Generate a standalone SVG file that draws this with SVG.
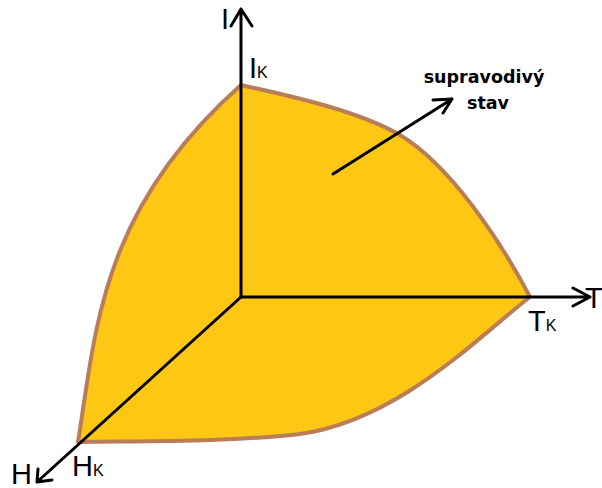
<svg xmlns="http://www.w3.org/2000/svg" width="602" height="488" viewBox="0 0 602 488">
<style>
.ax{stroke:#000;stroke-width:3;fill:none;stroke-linecap:round;stroke-linejoin:round}
.lbl{font-family:"Liberation Sans",Arial,sans-serif;fill:#000}
.big{font-size:29px}
.sub{font-size:16px}
.note{font-family:"DejaVu Sans",Verdana,sans-serif;font-weight:bold;font-size:17.5px;fill:#000}
</style>
<rect width="602" height="488" fill="#fff"/>
<g id="region">
<path d="M241,85 C300,98 360,112 400,135 C450,165 500,240 530,297 C480,335 400,420 300,434 C230,442 150,441 78,442 C96,330 100,210 241,85 Z" fill="#FDC713" stroke="#B97E57" stroke-width="4" stroke-linejoin="round"/>
</g>
<g id="connectors">
<path class="ax" d="M241,297 L241,9 M231,26 L241,9 L252,26"/>
<path class="ax" d="M241,297 L590,297 M573,288 L590,297 L573,306"/>
<path class="ax" d="M241,297 L37,482 M38,469 L37,482 L52,480"/>
<path class="ax" d="M333,174 L452,99 M433,100 L452,99 L443,113"/>
</g>
<g id="axis-I"><text class="lbl big" x="221" y="29">I</text></g>
<g id="axis-T"><text class="lbl big" x="585" y="308">T</text></g>
<g id="axis-H"><text class="lbl big" x="11" y="484">H</text></g>
<g id="label-Ik"><text class="lbl big" x="249" y="78">I<tspan class="sub">K</tspan></text></g>
<g id="label-Tk"><text class="lbl big" x="528" y="331">T<tspan class="sub">K</tspan></text></g>
<g id="label-Hk"><text class="lbl big" x="72" y="476">H<tspan class="sub">K</tspan></text></g>
<g id="label-state">
<text class="note" x="484" y="83" text-anchor="middle">supravodivý</text>
<text class="note" x="488" y="109" text-anchor="middle">stav</text>
</g>
</svg>
